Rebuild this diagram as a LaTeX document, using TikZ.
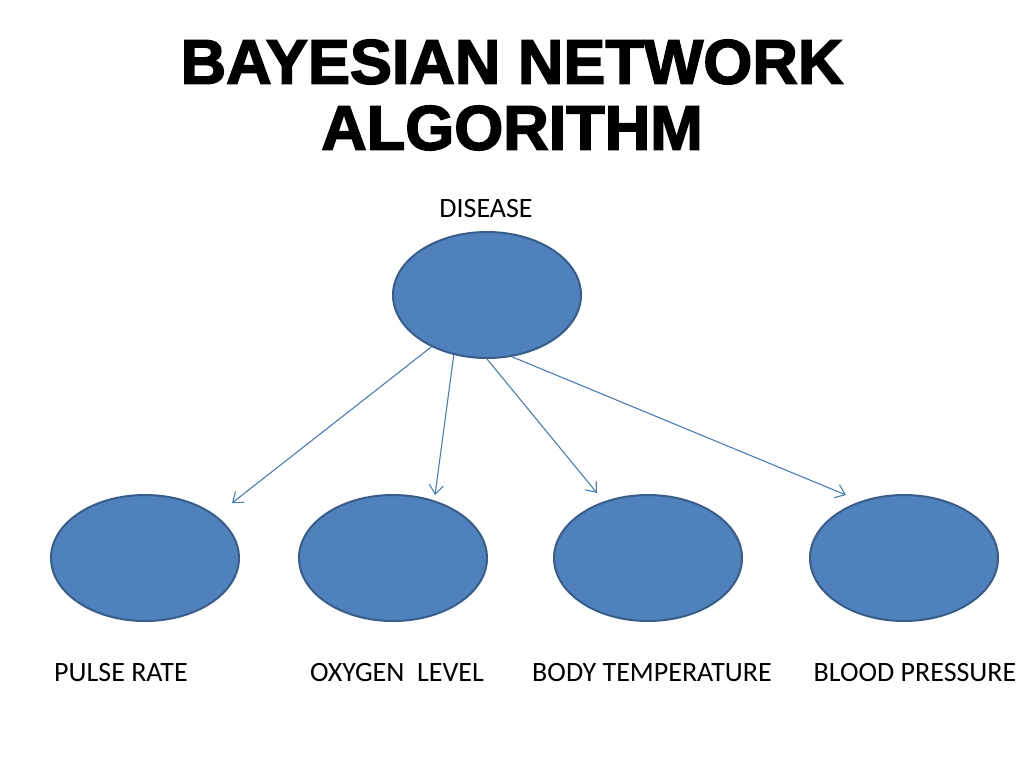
\documentclass[tikz,border=0pt]{standalone}
\usepackage{fontspec}
\setmainfont{Carlito}
\newfontfamily\titlefont[FakeBold=2.5]{Liberation Sans}
\usetikzlibrary{arrows.meta,shapes.geometric}
\definecolor{efill}{HTML}{4F81BD}
\definecolor{eline}{HTML}{385D8A}
\definecolor{aline}{HTML}{4A7EBB}
\begin{document}
\begin{tikzpicture}[x=1pt,y=-1pt,
  ell/.style={ellipse,fill=efill,draw=eline,line width=2pt,inner sep=0pt},
  small/.style={ell,minimum width=188pt,minimum height=126pt},
  lbl/.style={font=\fontsize{28}{32}\selectfont,text=black,inner sep=0pt,anchor=base},
  arr/.style={draw=aline,line width=1.1pt,-{Straight Barb[length=9pt,width=14pt]}}]
\useasboundingbox[fill=white] (0,0) rectangle (1024,768);
\node[font=\titlefont\bfseries\fontsize{63}{68}\selectfont,align=center,inner sep=0pt] (title) at (512,95)
  {BAYESIAN NETWORK\\[-2pt]ALGORITHM};
\node[small] (dis) at (487,295) {};
\node[lbl] (ldis) at (486,217) {DISEASE};
\node[small] (p) at (145,558) {};
\node[small] (o) at (393,558) {};
\node[small] (b) at (648,558) {};
\node[small] (bp) at (904,558) {};
\node[lbl] (lp) at (121,681) {PULSE RATE};
\node[lbl] (lo) at (397,681) {OXYGEN\ \ LEVEL};
\node[lbl] (lb) at (652,681) {BODY TEMPERATURE};
\node[lbl] (lbp) at (915,681) {BLOOD PRESSURE};
\coordinate (t1) at (232,503);
\coordinate (t2) at (435,495);
\coordinate (t3) at (597,493);
\coordinate (t4) at (846,495);
\draw[arr] (dis.223) -- (t1);
\draw[arr] (dis.241) -- (t2);
\draw[arr] (dis.270) -- (t3);
\draw[arr] (dis.292) -- (t4);
\end{tikzpicture}
\end{document}
